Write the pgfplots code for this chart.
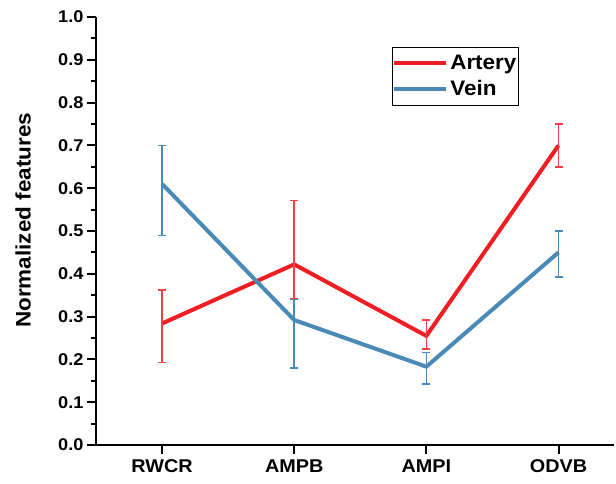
\documentclass[border=0pt]{standalone}
\usepackage{fontspec}
\setmainfont{Liberation Sans}[FakeStretch=1.07]
\usepackage{pgfplots}
\pgfplotsset{compat=1.18}
\definecolor{artred}{RGB}{240,30,35}
\definecolor{veinblue}{RGB}{74,138,182}
\begin{document}
\bfseries
\begin{tikzpicture}
\begin{axis}[
    scale only axis,
    width=518pt, height=428pt,
    xmin=-0.5, xmax=3.42,
    ymin=0, ymax=1,
    axis x line=bottom, axis y line=left,
    axis line style={-, line width=2pt},
    xtick={0,1,2,3},
    xticklabels={RWCR,AMPB,AMPI,ODVB},
    ytick={0,0.1,...,1.0},
    minor y tick num=1,
    tick align=outside,
    major tick length=9pt, minor tick length=5pt,
    every tick/.style={black, line width=2pt},
    /pgf/number format/assume math mode=true,
    /pgf/number format/.cd, fixed, fixed zerofill, precision=1, /pgfplots/.cd,
    yticklabel style={font=\fontsize{17}{20}\selectfont\bfseries},
    xticklabel style={font=\fontsize{18.5}{22}\selectfont\bfseries, yshift=-2pt},
    ylabel={Normalized features},
    every axis y label/.style={at={(axis description cs:0,0.525)}, xshift=-73pt,
        rotate=90, anchor=center, font=\fontsize{21}{25}\selectfont\bfseries},
    legend style={at={(axis description cs:0.571,0.930)}, anchor=north west,
        draw=black, line width=1pt, font=\fontsize{21}{25}\selectfont\bfseries,
        inner xsep=0pt, inner ysep=6pt, row sep=5pt, cells={anchor=west}},
    legend image code/.code={\draw[#1, line width=4pt] (-2pt,0pt) -- (50pt,0pt);},
    clip=false,
]
\addplot[artred, line width=4pt, no markers,
    error bars/.cd, y dir=both, y explicit,
    error bar style={line width=1.5pt, artred!85},
    error mark options={rotate=90, mark size=4pt, line width=1.5pt, artred!85}]
coordinates {
    (0,0.284) += (0,0.078) -= (0,0.091) % RWCR
    (1,0.422) += (0,0.149) -= (0,0.081) % AMPB
    (2,0.255) += (0,0.037) -= (0,0.031) % AMPI
    (3,0.700) += (0,0.050) -= (0,0.050) % ODVB
};
\addlegendentry{Artery}
\addplot[veinblue, line width=4pt, no markers,
    error bars/.cd, y dir=both, y explicit,
    error bar style={line width=1.5pt},
    error mark options={rotate=90, mark size=4pt, line width=1.5pt}]
coordinates {
    (0,0.610) += (0,0.090) -= (0,0.120)
    (1,0.292) += (0,0.048) -= (0,0.112)
    (2,0.183) += (0,0.033) -= (0,0.040)
    (3,0.450) += (0,0.050) -= (0,0.058)
};
\addlegendentry{Vein}
\end{axis}
\pgfresetboundingbox
\path[use as bounding box] (-96pt,-38pt) rectangle (520pt,445pt);
\end{tikzpicture}
\end{document}
